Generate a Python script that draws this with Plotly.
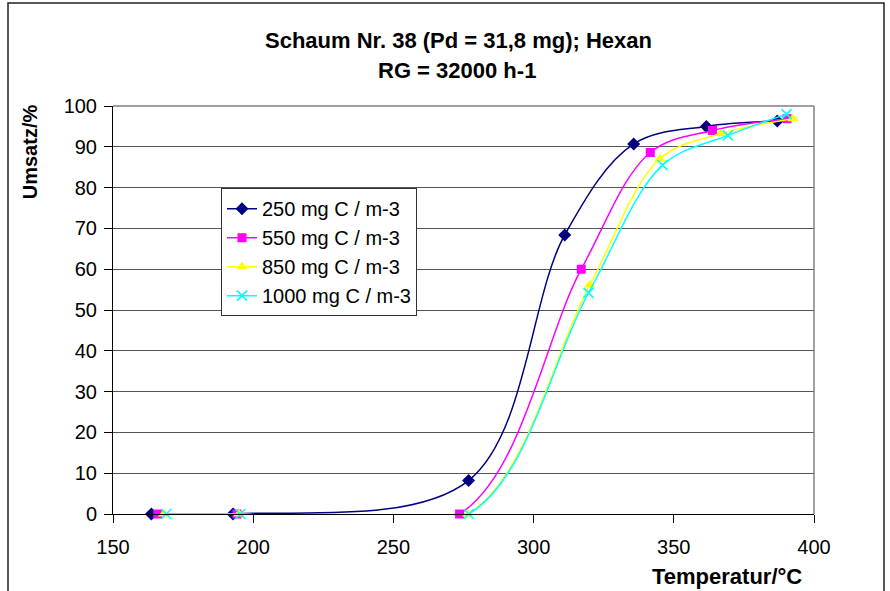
import plotly.graph_objects as go

# Data
names = ["250 mg C / m-3", "550 mg C / m-3", "850 mg C / m-3", "1000 mg C / m-3"]
x_250 = [163.7, 192.8, 276.8, 311.1, 335.7, 361.6, 386.9]
y_250 = [0.0, 0.0, 8.2, 68.4, 90.7, 95.0, 96.3]
x_550 = [166.0, 194.2, 273.6, 317.0, 341.6, 363.8, 390.4]
y_550 = [0.0, 0.0, 0.0, 60.0, 88.6, 94.0, 96.9]
x_850 = [168.1, 194.9, 276.5, 320.0, 345.0, 366.6, 392.5]
y_850 = [0.0, 0.0, 0.0, 56.1, 87.0, 93.2, 96.9]
x_1000 = [169.0, 195.4, 276.9, 319.6, 346.0, 369.3, 390.2]
y_1000 = [0.0, 0.0, 0.0, 54.2, 85.5, 92.8, 98.0]

x_ticks = [150, 200, 250, 300, 350, 400]
y_ticks = [0, 10, 20, 30, 40, 50, 60, 70, 80, 90, 100]

FONT = "Liberation Sans, Arial, sans-serif"

styles = [
    dict(color="#000080", symbol="diamond", size=10, lw=0),
    dict(color="#FF00FF", symbol="square", size=9, lw=0),
    dict(color="#FFFF00", symbol="triangle-up", size=10, lw=0),
    dict(color="#00FFFF", symbol="x-thin", size=10, lw=1.6),
]
xs = [x_250, x_550, x_850, x_1000]
ys = [y_250, y_550, y_850, y_1000]

fig = go.Figure()
for i in range(4):
    st = styles[i]
    marker = dict(color=st["color"], symbol=st["symbol"], size=st["size"])
    if st["lw"]:
        marker["line"] = dict(color=st["color"], width=st["lw"])
    fig.add_trace(go.Scatter(
        x=xs[i], y=ys[i], name=names[i], mode="lines+markers",
        line=dict(color=st["color"], width=1.5, shape="spline", smoothing=1.0),
        marker=marker, legendgroup=str(i), cliponaxis=False,
    ))

W, H = 890, 591
L, R, T, B = 113, 814, 105.7, 514.3
pw, ph = R - L, B - T

def px(xp):
    return (xp - L) / pw

def py(yp):
    return (B - yp) / ph

fig.update_layout(
    width=W, height=H,
    margin=dict(l=L, r=W - R, t=T, b=H - B),
    paper_bgcolor="white", plot_bgcolor="white",
    font=dict(family=FONT, size=20, color="black"),
    showlegend=True,
    legend=dict(
        x=px(221), y=py(188), xanchor="left", yanchor="top",
        bgcolor="white", bordercolor="#333333", borderwidth=1,
        font=dict(family=FONT, size=20, color="black"),
        tracegroupgap=0,
    ),
    xaxis=dict(
        range=[150, 400], tickvals=x_ticks, ticktext=[str(v) for v in x_ticks],
        showgrid=False, zeroline=False, showline=True, linecolor="black", linewidth=1,
        ticks="outside", ticklen=8, tickcolor="black", ticklabelstandoff=7,
        tickfont=dict(family=FONT, size=20, color="black"),
    ),
    yaxis=dict(
        range=[0, 100], tickvals=y_ticks, ticktext=[str(v) for v in y_ticks],
        showgrid=True, gridcolor="#555555", gridwidth=1,
        zeroline=False, showline=True, linecolor="black", linewidth=1,
        ticks="outside", ticklen=8, tickcolor="black", ticklabelstandoff=3,
        tickfont=dict(family=FONT, size=20, color="black"),
    ),
    annotations=[
        dict(text="<b>Schaum Nr. 38 (Pd = 31,8 mg); Hexan</b>", x=px(458), y=py(40),
             xref="paper", yref="paper", showarrow=False, xanchor="center", yanchor="middle",
             font=dict(family=FONT, size=22, color="black")),
        dict(text="<b>RG = 32000 h-1</b>", x=px(457), y=py(70),
             xref="paper", yref="paper", showarrow=False, xanchor="center", yanchor="middle",
             font=dict(family=FONT, size=22, color="black")),
        dict(text="<b>Umsatz/%</b>", x=px(30), y=py(152), textangle=-90,
             xref="paper", yref="paper", showarrow=False, xanchor="center", yanchor="middle",
             font=dict(family=FONT, size=20, color="black")),
        dict(text="<b>Temperatur/°C</b>", x=px(727), y=py(577),
             xref="paper", yref="paper", showarrow=False, xanchor="center", yanchor="middle",
             font=dict(family=FONT, size=22, color="black")),
    ],
    shapes=[
        dict(type="line", xref="paper", yref="paper", x0=1, x1=1, y0=0, y1=1,
             line=dict(color="#808080", width=1.5)),
        dict(type="line", xref="paper", yref="paper", x0=0, x1=1, y0=1, y1=1,
             line=dict(color="#808080", width=1.5)),
        dict(type="rect", xref="paper", yref="paper",
             x0=px(8), x1=px(884), y0=py(2.5), y1=py(600),
             line=dict(color="#222222", width=1.5), fillcolor="rgba(0,0,0,0)"),
    ],
)

fig.write_html("out.html", config={"displayModeBar": False},
               post_script="document.body.style.margin='0';")
